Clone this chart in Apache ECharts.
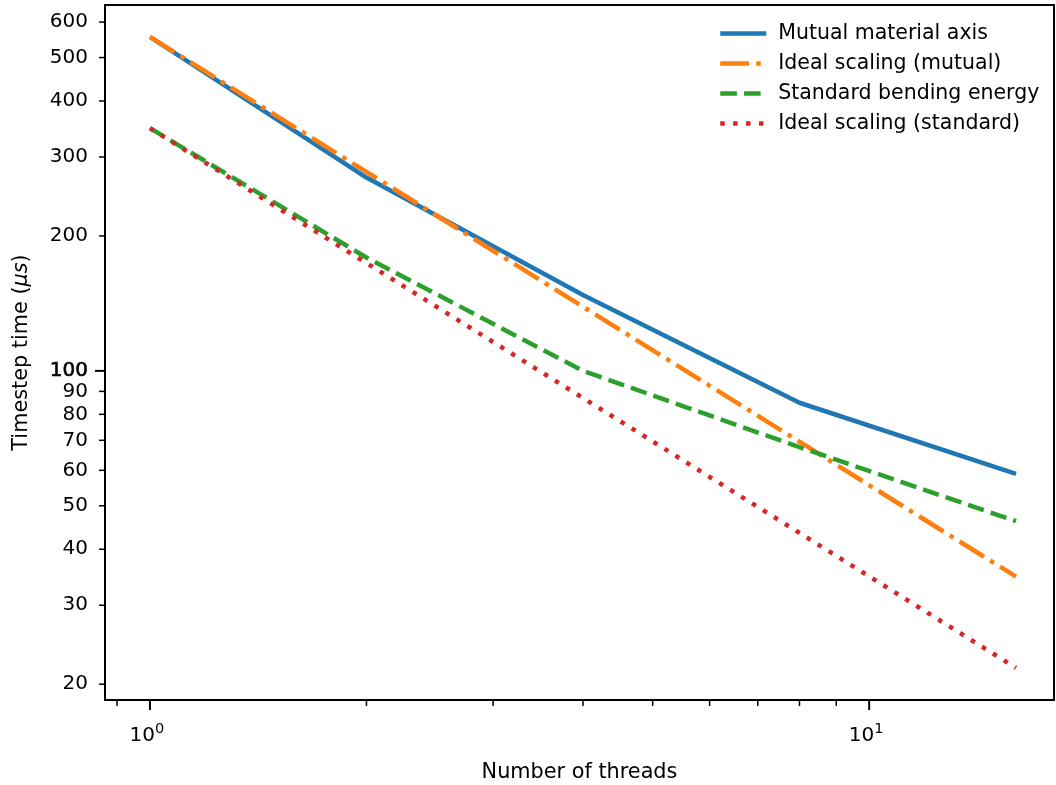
<!DOCTYPE html>
<html>
<head>
<meta charset="utf-8">
<script src="https://cdn.jsdelivr.net/npm/echarts@6/dist/echarts.min.js"></script>
<style>
  html, body { margin: 0; padding: 0; background: #fff; }
  #chart { width: 1056px; height: 785px; }
</style>
</head>
<body>
<div id="chart"></div>
<script>
// ---- data ----
const threads = [1, 2, 4, 8, 16];
const mutualMaterialAxis = [556, 270, 147.6, 84.9, 58.9];
const idealMutual = [556, 278, 139, 69.5, 34.75];
const standardBending = [348, 179, 100, 67.6, 46.2];
const idealStandard = [348, 174, 87, 43.5, 21.75];

const seriesNames = ['Mutual material axis', 'Ideal scaling (mutual)', 'Standard bending energy', 'Ideal scaling (standard)'];

// tick definitions
const yTickValues = [20, 30, 40, 50, 60, 70, 80, 90, 100, 200, 300, 400, 500, 600];
const yTickLabels = ['20', '30', '40', '50', '60', '70', '80', '90', '100', '200', '300', '400', '500', '600'];
const yTickMajor = [0, 0, 0, 0, 0, 0, 0, 0, 1, 0, 0, 0, 0, 0];
const xTickValues = [0.9, 1, 2, 3, 4, 5, 6, 7, 8, 9, 10];
const xTickMajor = [0, 1, 0, 0, 0, 0, 0, 0, 0, 0, 1];
const xTickExponent = ['', '0', '', '', '', '', '', '', '', '', '1'];

// axis ranges
const X_MIN = 0.866, X_MAX = 18.07;
const Y_MIN = 18.44, Y_MAX = 655;

const FONT = 'DejaVu Sans';
const colors = ['#1f77b4', '#ff7f0e', '#2ca02c', '#d62728'];
const LW = 4.5;

function pairs(xs, ys) { return xs.map((x, i) => [x, ys[i]]); }

const chart = echarts.init(document.getElementById('chart'), null, { renderer: 'canvas' });

const option = {
  animation: false,
  backgroundColor: '#fff',
  grid: {
    left: 105, right: 2, top: 5, bottom: 85,
    outerBoundsMode: 'none', containLabel: false,
    show: true, borderColor: '#000', borderWidth: 2, backgroundColor: 'transparent'
  },
  legend: {
    data: seriesNames,
    orient: 'vertical',
    left: 718, top: 23,
    padding: 0,
    itemWidth: 46, itemHeight: 14, itemGap: 9,
    itemStyle: { opacity: 0 },
    lineStyle: { width: LW },
    textStyle: { fontFamily: FONT, fontSize: 20.5, color: '#000', lineHeight: 21, padding: [0, 0, 0, 7] }
  },
  xAxis: {
    type: 'log', logBase: 10, min: X_MIN, max: X_MAX,
    axisLine: { show: false }, axisTick: { show: false }, axisLabel: { show: false }, splitLine: { show: false },
    name: 'Number of threads', nameLocation: 'middle', nameGap: 62,
    nameTextStyle: { fontFamily: FONT, fontSize: 20.8, color: '#000' }
  },
  yAxis: {
    type: 'log', logBase: 10, min: Y_MIN, max: Y_MAX,
    axisLine: { show: false }, axisTick: { show: false }, axisLabel: { show: false }, splitLine: { show: false },
    name: 'Timestep time ({i|μs})', nameLocation: 'middle', nameGap: 73, nameRotate: 90,
    nameTextStyle: { fontFamily: FONT, fontSize: 20.8, color: '#000',
      rich: { i: { fontFamily: FONT, fontSize: 20.8, fontStyle: 'italic', color: '#000' } } }
  },
  series: [
    {
      name: seriesNames[0], type: 'line', data: pairs(threads, mutualMaterialAxis),
      symbol: 'none', color: colors[0],
      lineStyle: { width: LW, type: 'solid', color: colors[0] }, z: 2
    },
    {
      name: seriesNames[1], type: 'line', data: pairs(threads, idealMutual),
      symbol: 'none', color: colors[1],
      lineStyle: { width: LW, type: [28.8, 7.2, 4.5, 7.2], cap: 'butt', color: colors[1] }, z: 3
    },
    {
      name: seriesNames[2], type: 'line', data: pairs(threads, standardBending),
      symbol: 'none', color: colors[2],
      lineStyle: { width: LW, type: [16.6, 7.2], cap: 'butt', color: colors[2] }, z: 4
    },
    {
      name: seriesNames[3], type: 'line', data: pairs(threads, idealStandard),
      symbol: 'none', color: colors[3],
      lineStyle: { width: LW, type: [4.5, 8.4], cap: 'butt', color: colors[3] }, z: 5
    },
    {
      // y-axis ticks and labels
      type: 'custom', silent: true, clip: false, z: 10,
      data: yTickValues.map((v, i) => [X_MIN, v, yTickMajor[i], i]),
      renderItem: function (params, api) {
        const p = api.coord([api.value(0), api.value(1)]);
        const major = api.value(2) === 1;
        const idx = api.value(3);
        const len = major ? 9 : 5;
        const x0 = p[0] - 1;
        return {
          type: 'group',
          children: [
            { type: 'line', shape: { x1: x0 - len, y1: p[1], x2: x0, y2: p[1] },
              style: { stroke: '#000', lineWidth: major ? 2 : 1.5 } },
            { type: 'text', style: {
                text: yTickLabels[idx], x: x0 - 16, y: p[1],
                align: 'right', verticalAlign: 'middle',
                font: '20px "' + FONT + '"', fill: '#000',
                stroke: major ? '#000' : null, lineWidth: major ? 0.6 : 0
              } }
          ]
        };
      }
    },
    {
      // x-axis ticks and labels
      type: 'custom', silent: true, clip: false, z: 10,
      data: xTickValues.map((v, i) => [v, Y_MIN, xTickMajor[i], i]),
      renderItem: function (params, api) {
        const p = api.coord([api.value(0), api.value(1)]);
        const major = api.value(2) === 1;
        const idx = api.value(3);
        const len = major ? 9 : 5;
        const y0 = p[1] + 1;
        const children = [
          { type: 'line', shape: { x1: p[0], y1: y0, x2: p[0], y2: y0 + len },
            style: { stroke: '#000', lineWidth: major ? 2 : 1.5 } }
        ];
        if (major) {
          children.push({ type: 'text', style: {
            text: '10', x: p[0] + 5, y: y0 + 35, align: 'right', verticalAlign: 'middle',
            font: '20px "' + FONT + '"', fill: '#000' } });
          children.push({ type: 'text', style: {
            text: xTickExponent[idx], x: p[0] + 5, y: y0 + 21, align: 'left', verticalAlign: 'top',
            font: '14.5px "' + FONT + '"', fill: '#000' } });
        }
        return { type: 'group', children: children };
      }
    }
  ]
};

chart.setOption(option);
</script>
</body>
</html>
